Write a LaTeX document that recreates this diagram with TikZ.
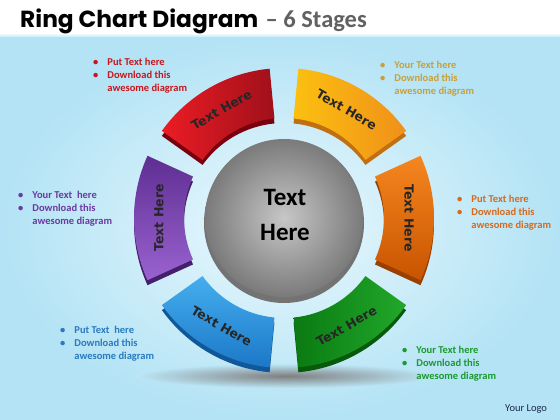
\documentclass[tikz,border=0pt]{standalone}
\usepackage{fontspec}
\setmainfont{Carlito}
\newfontfamily\titlefont{Poppins}[UprightFont=* Bold]
\newfontfamily\segfont{DejaVu Sans}
\definecolor{bgout}{HTML}{B3E3F5}
\definecolor{bgin}{HTML}{EAF8FD}
\definecolor{redL}{HTML}{EC1C24}\definecolor{redD}{HTML}{A0101A}\definecolor{redS}{HTML}{7A0010}
\definecolor{yelL}{HTML}{FCC010}\definecolor{yelD}{HTML}{F0901A}\definecolor{yelS}{HTML}{C07010}
\definecolor{oraL}{HTML}{F5861F}\definecolor{oraD}{HTML}{C85400}\definecolor{oraS}{HTML}{9A4000}
\definecolor{grnL}{HTML}{22A82A}\definecolor{grnD}{HTML}{0A7A12}\definecolor{grnS}{HTML}{065A0A}
\definecolor{bluL}{HTML}{45AEEE}\definecolor{bluD}{HTML}{1C78C8}\definecolor{bluS}{HTML}{10589A}
\definecolor{purL}{HTML}{9A62D0}\definecolor{purD}{HTML}{5E2E92}\definecolor{purS}{HTML}{44206A}
\definecolor{tRed}{HTML}{C8161E}\definecolor{tYel}{HTML}{C8A038}\definecolor{tPur}{HTML}{6A3AA0}
\definecolor{tOra}{HTML}{D8691A}\definecolor{tBlu}{HTML}{2A7AC0}\definecolor{tGrn}{HTML}{1A9A30}
\definecolor{logo}{HTML}{1A2A4A}
\tikzset{
  segtext/.style={font=\segfont\bfseries\fontsize{12.5}{14}\selectfont, text=black!85},
  bultext/.style={anchor=north west, inner sep=0pt, font=\bfseries\fontsize{10.5}{13}\selectfont, align=left},
}
% #1 mid angle, #2 shading options, #3 side colour, #4 text rotation, #5 node name
\newcommand\ringseg[5]{%
  \begin{scope}[shift={(284,-218)}]
    \fill[#3] ([yshift=-5pt]#1-24.5:100) arc[start angle=#1-24.5, end angle=#1+24.5, radius=100]
      -- ([yshift=-5pt]#1+24.5:150) arc[start angle=#1+24.5, end angle=#1-24.5, radius=150] -- cycle;
    \shade[#2] (#1-24.5:100) arc[start angle=#1-24.5, end angle=#1+24.5, radius=100]
      -- (#1+24.5:150) arc[start angle=#1+24.5, end angle=#1-24.5, radius=150] -- cycle;
    \node[segtext, rotate=#4] (#5) at (#1:125) {Text Here};
  \end{scope}}
\newcommand\bulletlist[4]{% #1 name, #2 position, #3 colour, #4 first line
  \node[bultext, text=#3] (#1) at #2 {%
    \begin{tabular}{@{}l@{\hspace{9pt}}l@{}}
      \textbullet & #4\\
      \textbullet & Download this\\
      & awesome diagram
    \end{tabular}};}
\begin{document}
\begin{tikzpicture}[x=1pt,y=1pt]
\useasboundingbox (0,0) rectangle (560,-420);
% background
\shade[inner color=bgin, outer color=bgout] (0,-35) rectangle (560,-420);
\fill[white] (0,0) rectangle (560,-33);
\shade[top color=white, bottom color=bgout!80!white] (0,-33) rectangle (560,-37);
% title
\node[anchor=base west, inner sep=0pt, font=\titlefont\fontsize{23.3}{26}\selectfont] (title) at (20,-28) {Ring Chart Diagram};
\node[anchor=base west, inner sep=0pt, font=\bfseries\fontsize{24.5}{27}\selectfont, text=black!62] (sub) at ([xshift=7pt]title.base east) {– 6 Stages};
% shadow
\shade[inner color=black!50, outer color=bgout!85!bgin] (286,-376) ellipse [x radius=150, y radius=12];
% segments
\ringseg{120}{left color=redL, right color=redD}{redS}{30}{sred}
\ringseg{60}{left color=yelL, right color=yelD}{yelS}{-30}{syel}
\ringseg{0}{top color=oraL, bottom color=oraD}{oraS}{-90}{sora}
\ringseg{-60}{left color=grnD, right color=grnL}{grnS}{30}{sgrn}
\ringseg{-120}{top color=bluL, bottom color=bluD}{bluS}{-30}{sblu}
\ringseg{180}{top color=purD, bottom color=purL}{purS}{90}{spur}
% centre disc
\fill[black!55] (284,-223) circle (80);
\shade[inner color=black!22, outer color=black!52] (284,-218) circle (79);
\node[font=\bfseries\fontsize{25}{35}\selectfont, align=center] (ctext) at (285,-215) {Text\\Here};
% bullet texts
\bulletlist{lred}{(93,-56)}{tRed}{Put Text here}
\bulletlist{lyel}{(380,-59)}{tYel}{Your Text here}
\bulletlist{lpur}{(18,-189)}{tPur}{Your Text\ \ here}
\bulletlist{lora}{(457,-193)}{tOra}{Put Text here}
\bulletlist{lblu}{(60,-324)}{tBlu}{Put Text\ \ here}
\bulletlist{lgrn}{(402,-344)}{tGrn}{Your Text here}
\node[anchor=base west, inner sep=0pt, font=\fontsize{10.5}{12}\selectfont, text=logo] (logo) at (505,-411) {Your Logo};
\end{tikzpicture}
\end{document}
